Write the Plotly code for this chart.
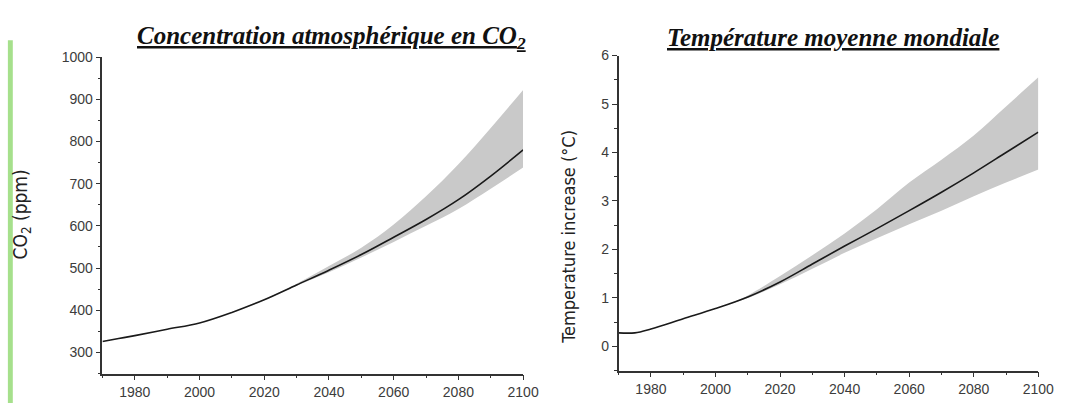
import plotly.graph_objects as go

# ---- data ----
years = [1970, 1975, 1980, 1990, 2000, 2010, 2020, 2030, 2040, 2050, 2060, 2070, 2080, 2090, 2100]
co2_mean = [326, 333, 340, 355, 370, 395, 425, 460, 495, 532, 573, 615, 662, 718, 780]
band_years = [2020, 2030, 2040, 2050, 2060, 2070, 2080, 2090, 2100]
co2_upper = [425, 463, 505, 548, 603, 670, 746, 832, 922]
co2_lower = [425, 458, 490, 525, 562, 600, 640, 688, 738]

temp_mean = [0.28, 0.28, 0.36, 0.57, 0.78, 1.02, 1.33, 1.70, 2.07, 2.43, 2.80, 3.18, 3.58, 4.00, 4.42]
tband_years = [2005, 2010, 2020, 2030, 2040, 2050, 2060, 2070, 2080, 2090, 2100]
temp_upper = [0.89, 1.05, 1.45, 1.88, 2.33, 2.83, 3.38, 3.85, 4.35, 4.95, 5.55]
temp_lower = [0.89, 1.00, 1.28, 1.60, 1.93, 2.23, 2.52, 2.80, 3.10, 3.38, 3.65]

title_left = "Concentration atmosphérique en CO<sub>2</sub>"
title_right = "Température moyenne mondiale"
ylab_left = "CO<sub>2</sub> (ppm)"
ylab_right = "Temperature increase (°C)"

BAND = "#c9c9c9"
LINE = "#1a1a1a"

fig = go.Figure()
fig.add_trace(go.Scatter(x=band_years, y=co2_upper, mode="lines", line=dict(width=0, shape="spline"),
                         showlegend=False, hoverinfo="skip", xaxis="x", yaxis="y"))
fig.add_trace(go.Scatter(x=band_years, y=co2_lower, mode="lines", line=dict(width=0, shape="spline"),
                         fill="tonexty", fillcolor=BAND, showlegend=False, hoverinfo="skip", xaxis="x", yaxis="y"))
fig.add_trace(go.Scatter(x=years, y=co2_mean, mode="lines", line=dict(color=LINE, width=1.6, shape="spline"),
                         showlegend=False, xaxis="x", yaxis="y"))
fig.add_trace(go.Scatter(x=tband_years, y=temp_upper, mode="lines", line=dict(width=0, shape="spline"),
                         showlegend=False, hoverinfo="skip", xaxis="x2", yaxis="y2"))
fig.add_trace(go.Scatter(x=tband_years, y=temp_lower, mode="lines", line=dict(width=0, shape="spline"),
                         fill="tonexty", fillcolor=BAND, showlegend=False, hoverinfo="skip", xaxis="x2", yaxis="y2"))
fig.add_trace(go.Scatter(x=years, y=temp_mean, mode="lines", line=dict(color=LINE, width=1.6, shape="spline"),
                         showlegend=False, xaxis="x2", yaxis="y2"))

W, H = 1076, 403


def px(x):
    return x / W


def py(y):
    return 1 - y / H


tickfont = dict(family="Liberation Sans, Arial", size=14, color="#3c3c3c")
axcommon = dict(showline=True, linecolor="#333333", linewidth=1.5, showgrid=False, zeroline=False,
                ticks="outside", ticklen=5, tickcolor="#333333", tickwidth=1.2, tickfont=tickfont)

xcommon = dict(axcommon, range=[1970, 2100], tick0=1980, dtick=20,
               minor=dict(ticks="outside", ticklen=3, dtick=10, tick0=1970, tickcolor="#333333"))

fig.update_layout(
    width=W, height=H,
    margin=dict(l=0, r=0, t=0, b=0),
    paper_bgcolor="white", plot_bgcolor="white",
    xaxis=dict(xcommon, domain=[px(104), px(531)], anchor="y"),
    yaxis=dict(axcommon, domain=[py(373), py(50)], range=[250, 1000], dtick=100, tick0=300,
               anchor="x", minor=dict(ticks="outside", ticklen=3, dtick=50, tickcolor="#333333")),
    xaxis2=dict(xcommon, domain=[px(628), px(1054)], anchor="y2"),
    yaxis2=dict(axcommon, domain=[py(370), py(48.5)], range=[-0.5, 6], dtick=1, tick0=0,
                anchor="x2", minor=dict(ticks="outside", ticklen=3, dtick=0.5, tickcolor="#333333")),
)

annotations = [
    dict(text="<b><i><u>" + title_left + "</u></i></b>", x=px(336), y=py(30), xref="paper", yref="paper",
         showarrow=False, xanchor="center", yanchor="middle",
         font=dict(family="Liberation Serif, Times New Roman", size=25, color="#111111")),
    dict(text="<b><i><u>" + title_right + "</u></i></b>", x=px(846), y=py(30), xref="paper", yref="paper",
         showarrow=False, xanchor="center", yanchor="middle",
         font=dict(family="Liberation Serif, Times New Roman", size=25, color="#111111")),
    dict(text=ylab_left, x=px(22), y=py(211), xref="paper", yref="paper", textangle=-90,
         showarrow=False, xanchor="center", yanchor="middle",
         font=dict(family="Liberation Sans Narrow, DejaVu Sans Condensed, Arial Narrow", size=19, color="#222222")),
    dict(text=ylab_right, x=px(577), y=py(233), xref="paper", yref="paper", textangle=-90,
         showarrow=False, xanchor="center", yanchor="middle",
         font=dict(family="Liberation Sans Narrow, DejaVu Sans Condensed, Arial Narrow", size=18, color="#222222")),
]
fig.update_layout(annotations=annotations)

fig.add_shape(type="rect", xref="paper", yref="paper", x0=px(8), x1=px(13), y0=0, y1=py(33),
              fillcolor="#a6e08c", line=dict(width=0), layer="below")

fig.write_html(
    "out.html",
    config={"displayModeBar": False},
    post_script="document.body.style.margin='0';document.body.style.padding='0';"
                "document.body.style.overflow='hidden';",
)
